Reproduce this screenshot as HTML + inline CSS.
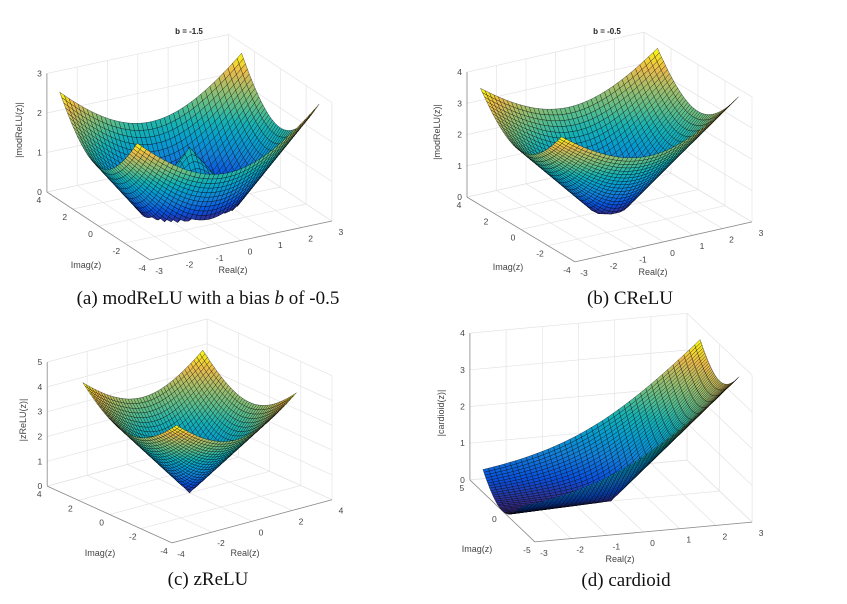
<!DOCTYPE html>
<html><head><meta charset="utf-8">
<style>
html,body{margin:0;padding:0;background:#fff;}
#wrap{position:relative;width:847px;height:604px;overflow:hidden;}
svg text{font-family:"Liberation Sans",sans-serif;}
.cap{font-family:"Liberation Serif",serif;font-size:19px;fill:#111;}
</style></head>
<body>
<div id="wrap">
<svg id="svg" width="847" height="604" viewBox="0 0 847 604">
<text class="cap" x="208" y="304" text-anchor="middle">(a) modReLU with a bias <tspan font-style="italic">b</tspan> of -0.5</text>
<text class="cap" x="630" y="304" text-anchor="middle">(b) CReLU</text>
<text class="cap" x="208" y="585" text-anchor="middle">(c) zReLU</text>
<text class="cap" x="626" y="586" text-anchor="middle">(d) cardioid</text>
<text x="189" y="34" font-size="8" font-weight="bold" text-anchor="middle" fill="#222">b = -1.5</text>
<text x="607" y="34" font-size="8" font-weight="bold" text-anchor="middle" fill="#222">b = -0.5</text>
</svg>
</div>
<script>
// tick label arrays
const xTicksA = [-3,-2,-1,0,1,2,3];
const yTicksA = [-4,-2,0,2,4];
const zTicksA = [0,1,2,3];
const zTicksB = [0,1,2,3,4];
const xTicksC = [-4,-2,0,2,4];
const yTicksC = [-4,-2,0,2,4];
const zTicksC = [0,1,2,3,4,5];
const xTicksD = [-3,-2,-1,0,1,2,3];
const yTicksD = [-5,0,5];
const zTicksD = [0,1,2,3,4];
const biasA = -1.5;
const biasB = -0.5;
const surfDomain = [-3,3];
const gridN = 41;

const svg = document.getElementById('svg');
const NS = 'http://www.w3.org/2000/svg';

const parula = [[0,53,42,135],[0.12,8,80,220],[0.25,18,125,216],[0.38,6,156,207],[0.5,21,177,180],[0.62,89,189,140],[0.75,165,190,106],[0.87,235,186,76],[1,249,251,14]];
function cmap(t){
  t=Math.max(0,Math.min(1,t));
  for(let i=1;i<parula.length;i++){
    if(t<=parula[i][0]){
      const a=parula[i-1],b=parula[i],u=(t-a[0])/(b[0]-a[0]);
      return 'rgb('+[1,2,3].map(k=>Math.round(a[k]+(b[k]-a[k])*u)).join(',')+')';
    }
  }
  return 'rgb(249,251,14)';
}

const panels = [
 {id:'a',o:[189.4,206.5],ex:[30.3,-6.5],ey:[-12.9,-8.5],ez:[0,-39.5],xr:[-3,3],yr:[-4,4],zr:[0,3],
  xt:xTicksA,yt:yTicksA,zt:zTicksA,f:(x,y)=>Math.abs(Math.hypot(x,y)+biasA),
  real:[233,273],imag:[86,268],zl:[22,130],zname:'|modReLU(z)|'},
 {id:'b',o:[609.5,209.5],ex:[29.5,-6.67],ey:[-13.5,-8.1],ez:[0,-31.25],xr:[-3,3],yr:[-4,4],zr:[0,4],
  xt:xTicksA,yt:yTicksA,zt:zTicksB,f:(x,y)=>Math.max(Math.hypot(x,y)+biasB,0),
  real:[653,275],imag:[508,270],zl:[440,132],zname:'|modReLU(z)|'},
 {id:'c',o:[189.6,492.9],ex:[20,-5.4],ey:[-15.6,-7.1],ez:[0,-24.8],xr:[-4,4],yr:[-4,4],zr:[0,5],
  xt:xTicksC,yt:yTicksC,zt:zTicksC,f:(x,y)=>Math.hypot(x,y),
  real:[245,556],imag:[100,556],zl:[26,420],zname:'|zReLU(z)|'},
 {id:'d',o:[611,501],ex:[36.2,-3.3],ey:[-6.5,-6.2],ez:[0,-36.7],xr:[-3,3],yr:[-5,5],zr:[0,4],
  xt:xTicksD,yt:yTicksD,zt:zTicksD,f:(x,y)=>0.5*(Math.hypot(x,y)+x),
  real:[620,562],imag:[477,552],zl:[444,413],zname:'|cardioid(z)|'}
];

function el(tag,attrs,parent){
  const e=document.createElementNS(NS,tag);
  for(const k in attrs)e.setAttribute(k,attrs[k]);
  (parent||svg).appendChild(e);return e;
}

panels.forEach(p=>{
  const P=(x,y,z)=>[p.o[0]+x*p.ex[0]+y*p.ey[0]+z*p.ez[0], p.o[1]+x*p.ex[1]+y*p.ey[1]+z*p.ez[1]];
  const g=el('g',{});
  
  
  const [x0,x1]=p.xr,[y0,y1]=p.yr,[z0,z1]=p.zr;
  const line=(a,b,c,w,nm)=>{const q=el('line',{x1:a[0].toFixed(1),y1:a[1].toFixed(1),x2:b[0].toFixed(1),y2:b[1].toFixed(1),stroke:c,'stroke-width':w},g);
    
    };
  const gc='#e4e4e4';
  p.xt.forEach(x=>{line(P(x,y0,0),P(x,y1,0),gc,0.7,'floor-gridline');line(P(x,y1,z0),P(x,y1,z1),gc,0.7,'wall-gridline');});
  p.yt.forEach(y=>{line(P(x0,y,0),P(x1,y,0),gc,0.7,'floor-gridline');line(P(x1,y,z0),P(x1,y,z1),gc,0.7,'wall-gridline');});
  p.zt.forEach(z=>{line(P(x0,y1,z),P(x1,y1,z),gc,0.7,'wall-gridline');line(P(x1,y1,z),P(x1,y0,z),gc,0.7,'wall-gridline');});
  line(P(x0,y0,0),P(x1,y0,0),'#8a8a8a',0.8,'x-axis');
  line(P(x0,y0,0),P(x0,y1,0),'#8a8a8a',0.8,'y-axis');
  line(P(x0,y1,z0),P(x0,y1,z1),'#8a8a8a',0.8,'z-axis');
  const txt=(s,pt,anchor,nm)=>{const t=el('text',{x:pt[0].toFixed(1),y:pt[1].toFixed(1),'font-size':8.5,fill:'#444','text-anchor':anchor},g);t.textContent=s;
    
    };
  p.xt.forEach(x=>{const q=P(x,y0,0);txt(String(x),[q[0]+9,q[1]+14],'middle','x-tick-label');});
  p.yt.forEach(y=>{const q=P(x0,y,0);txt(String(y),[q[0]-8,q[1]+11],'middle','y-tick-label');});
  p.zt.forEach(z=>{const q=P(x0,y1,z);txt(String(z),[q[0]-5,q[1]+3],'end','z-tick-label');});
  const at=(s,pt,rot,nm)=>{const t=el('text',{x:pt[0],y:pt[1],'font-size':9,fill:'#444','text-anchor':'middle'},g);
    if(rot)t.setAttribute('transform','rotate(-90 '+pt[0]+' '+pt[1]+')');t.textContent=s;
    
    };
  at('Real(z)',p.real,false,'x-axis-title');
  at('Imag(z)',p.imag,false,'y-axis-title');
  at(p.zname,p.zl,true,'z-axis-title');
  const d0=surfDomain[0],d1=surfDomain[1],st=(d1-d0)/(gridN-1);
  const Z=[];let zmin=1e9,zmax=-1e9;
  for(let i=0;i<gridN;i++){Z.push([]);for(let j=0;j<gridN;j++){const v=p.f(d0+i*st,d0+j*st);Z[i].push(v);zmin=Math.min(zmin,v);zmax=Math.max(zmax,v);}}
  const quads=[];
  for(let i=0;i<gridN-1;i++)for(let j=0;j<gridN-1;j++){
    const xc=d0+(i+0.5)*st,yc=d0+(j+0.5)*st;
    quads.push([i,j,xc*p.ex[1]+yc*p.ey[1]]);
  }
  quads.sort((a,b)=>a[2]-b[2]);
  const sg=el('g',{stroke:'#000','stroke-width':0.45,'stroke-opacity':0.7},g);
  
  
  quads.forEach(([i,j])=>{
    const pts=[[i,j],[i+1,j],[i+1,j+1],[i,j+1]].map(([a,b])=>P(d0+a*st,d0+b*st,Z[a][b]));
    const zm=(Z[i][j]+Z[i+1][j]+Z[i+1][j+1]+Z[i][j+1])/4;
    const q=el('polygon',{points:pts.map(v=>v[0].toFixed(1)+','+v[1].toFixed(1)).join(' '),fill:cmap((zm-zmin)/(zmax-zmin))},sg);
    
    
  });
});
</script>
</body></html>
